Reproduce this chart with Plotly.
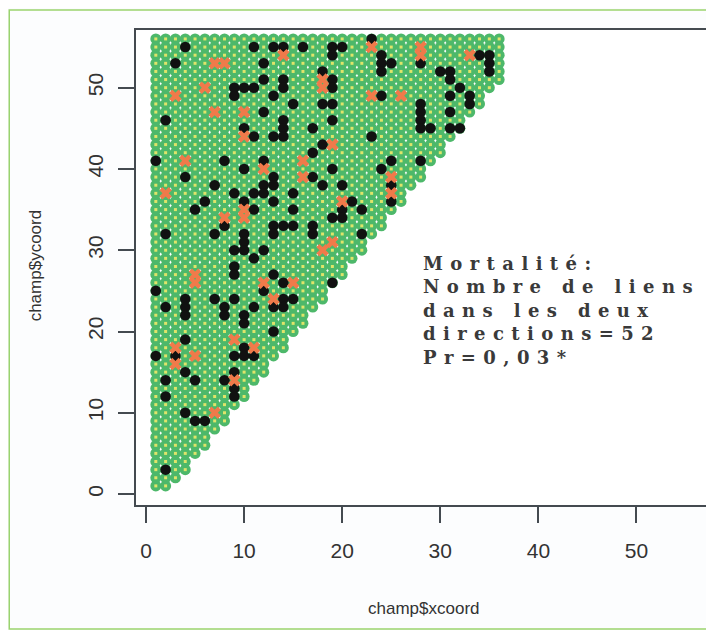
import plotly.graph_objects as go

# ---- data ----
field_cols = list(range(1, 37))
field_col_ymin = [1, 1, 2, 3, 5, 6, 8, 9, 11, 12, 14, 15, 17, 18, 20, 21, 23, 24,
                  26, 27, 29, 30, 32, 33, 35, 36, 38, 39, 41, 42, 44, 45, 47, 48, 50, 51]
field_ymax = 56

black_x = [23, 4, 3, 11, 13, 14, 16, 12, 12, 14, 14, 9, 10, 11, 9, 13, 15, 18, 12, 2,
           10, 14, 14, 14, 13, 11, 17, 18, 17, 1, 8, 12, 10, 17, 4, 7, 13, 13, 12, 12,
           11, 9, 15, 18,
           19, 20, 19, 24, 24, 25, 24, 28, 34, 35, 35, 35, 30, 31, 31, 32, 33, 33, 31, 31,
           28, 28, 28, 28, 29, 31, 32, 24, 19, 19, 19, 18, 19, 23, 28, 25, 24, 25, 25, 19,
           20, 21,
           6, 5, 8, 10, 11, 13, 15, 2, 7, 10, 10, 10, 9, 12, 11, 13, 13, 14, 15, 17, 17,
           9, 9, 1, 13, 12, 14, 4, 4, 4, 2, 7, 9, 8, 8, 11, 13, 14, 14, 15, 10, 10, 13,
           4, 10,
           20, 19, 20, 22, 22, 19,
           1, 3, 9, 10, 11, 4, 2, 5, 8, 9, 9, 9, 2, 4, 5, 6, 2]
black_y = [56, 55, 53, 55, 55, 55, 55, 53, 51, 51, 50, 50, 50, 50, 49, 49, 48, 52, 47, 46,
           45, 46, 45, 44, 44, 44, 45, 43, 42, 41, 41, 41, 40, 39, 39, 38, 39, 38, 38, 37,
           37, 37, 37, 38,
           55, 55, 54, 54, 53, 53, 52, 53, 54, 54, 53, 52, 52, 52, 51, 50, 49, 48, 49, 47,
           48, 47, 46, 45, 45, 45, 45, 49, 51, 50, 48, 48, 46, 44, 41, 41, 40, 38, 36, 40,
           38, 36,
           36, 35, 33, 36, 35, 36, 35, 32, 32, 32, 31, 30, 30, 30, 29, 33, 32, 33, 33, 33, 32,
           28, 27, 25, 27, 25, 26, 24, 23, 22, 23, 24, 24, 23, 22, 23, 23, 24, 23, 24, 22, 21, 20,
           19, 18,
           35, 34, 34, 35, 32, 26,
           17, 17, 17, 17, 17, 15, 14, 14, 14, 15, 13, 12, 12, 10, 9, 9, 3]

orange_x = [14, 7, 8, 6, 3, 18, 18, 7, 10, 10, 4, 12, 16, 16, 2, 23, 28, 28, 33, 23, 26,
            19, 25, 25, 20, 8, 10, 10, 18, 19, 5, 5, 12, 15, 13, 9, 3, 11, 3, 5, 9, 7]
orange_y = [54, 53, 53, 50, 49, 51, 50, 47, 47, 44, 41, 40, 41, 39, 37, 55, 55, 54, 54, 49, 49,
            43, 39, 37, 36, 34, 35, 34, 30, 31, 27, 26, 26, 26, 24, 19, 18, 18, 16, 17, 14, 10]

x_ticks = [0, 10, 20, 30, 40, 50]
y_ticks = [0, 10, 20, 30, 40, 50]
x_title = "champ$xcoord"
y_title = "champ$ycoord"
note_lines = ["Mortalité:", "Nombre de liens", "dans les deux", "directions=52", "Pr=0,03*"]

# ---- layout geometry (figure pixels; the page adds an 8px body margin) ----
W, H = 706, 622
ML, MR, MT, MB = 128, 0, 22, 125
PW, PH = W - ML - MR, H - MT - MB


def px(xp):
    return (xp - ML) / PW


def py(yp):
    return (H - MB - yp) / PH


# ---- field grid built from the column extents ----
gx, gy = [], []
for c, ymin in zip(field_cols, field_col_ymin):
    for r in range(ymin, field_ymax + 1):
        gx.append(c)
        gy.append(r)

fig = go.Figure()
fig.add_trace(go.Scatter(x=gx, y=gy, mode="markers", hoverinfo="skip",
                         marker=dict(symbol="circle", size=11, color="#4db86a",
                                     line=dict(width=0))))
fig.add_trace(go.Scatter(x=gx, y=gy, mode="markers", hoverinfo="skip",
                         marker=dict(symbol="square", size=3, color="#e0e46a",
                                     line=dict(width=0))))
fig.add_trace(go.Scatter(x=black_x, y=black_y, mode="markers",
                         marker=dict(symbol="circle", size=10.5, color="#111111",
                                     line=dict(width=0))))
fig.add_trace(go.Scatter(x=orange_x, y=orange_y, mode="markers",
                         marker=dict(symbol="x", size=11, color="#f07a4a",
                                     line=dict(width=0))))

note = "<br>".join('<span style="letter-spacing:7.4px">%s</span>' % s for s in note_lines)
fig.add_annotation(x=28.0, y=29.9, xref="x", yref="y", text=note, showarrow=False,
                   xanchor="left", yanchor="top", align="left",
                   font=dict(family="DejaVu Serif", size=18, color="#3a3a3a", weight="bold"))

fig.add_annotation(x=px(417), y=py(600), xref="paper", yref="paper",
                   text=x_title, showarrow=False, xanchor="center", yanchor="middle",
                   font=dict(family="Liberation Sans", size=17, color="#333333"))
fig.add_annotation(x=px(27), y=py(257), xref="paper", yref="paper",
                   text=y_title, showarrow=False, xanchor="center", yanchor="middle",
                   textangle=-90,
                   font=dict(family="Liberation Sans", size=17, color="#333333"))

# outer light-green frame
fig.add_shape(type="rect", xref="paper", yref="paper",
              x0=px(0.8), x1=px(704), y0=py(621), y1=py(2),
              line=dict(color="#9ad36e", width=1.5), fillcolor="rgba(0,0,0,0)", layer="below")

axis_common = dict(showgrid=False, zeroline=False, showline=True, mirror=True,
                   linecolor="#444a50", linewidth=1.5, ticks="outside", ticklen=16,
                   tickwidth=1.5, tickcolor="#444a50",
                   tickfont=dict(family="Liberation Sans", size=21, color="#333333"))
fig.update_xaxes(range=[-1.02, 57.7], tickvals=x_ticks, ticklabelstandoff=10, **axis_common)
fig.update_yaxes(range=[-1.35, 57.1], tickvals=y_ticks, tickangle=-90, ticklabelstandoff=7,
                 **axis_common)

fig.update_layout(width=W, height=H, showlegend=False,
                  margin=dict(l=ML, r=MR, t=MT, b=MB),
                  paper_bgcolor="#fcfdfe", plot_bgcolor="#ffffff")
fig.write_html("out.html")
